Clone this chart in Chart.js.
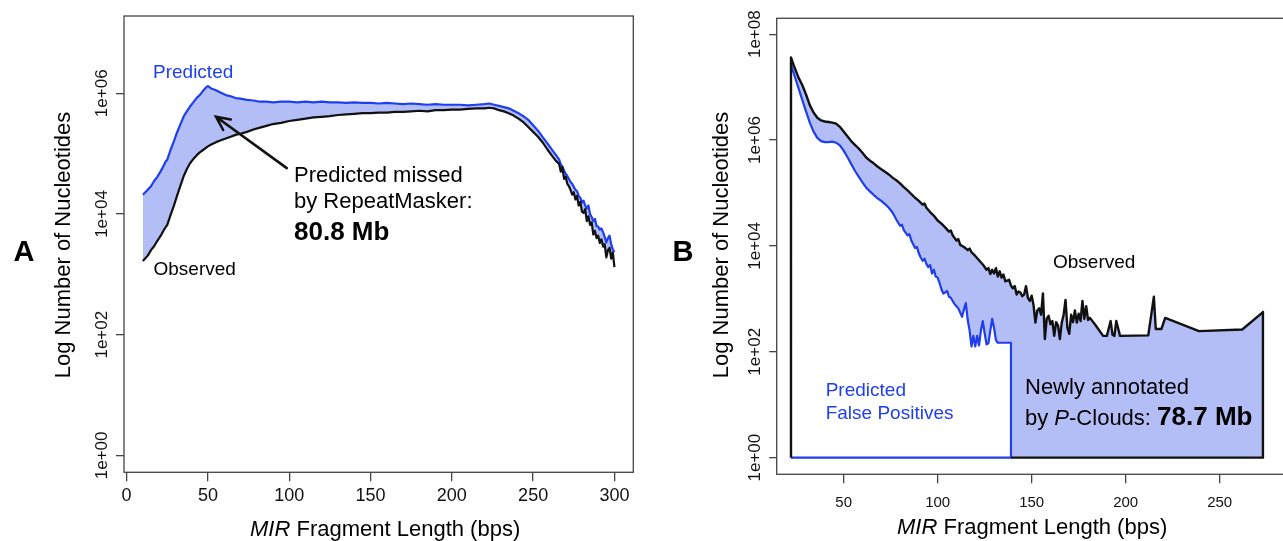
<!DOCTYPE html>
<html>
<head>
<meta charset="utf-8">
<script src="https://cdn.jsdelivr.net/npm/chart.js"></script>
<style>
html, body { margin: 0; padding: 0; overflow: hidden; background: #fff; }
#page { position: relative; width: 1283px; height: 541px; overflow: hidden; font-family: "Liberation Sans", Arial, sans-serif; color: #000; }
canvas { position: absolute; top: 0; }
.t { position: absolute; white-space: nowrap; line-height: 1; }
.rot { transform: translate(-50%, -50%) rotate(-90deg); }
.blue { color: #1e3ef0; }
</style>
</head>
<body>
<div id="page">
  <canvas id="chartA" width="640" height="541" style="left:0"></canvas>
  <canvas id="chartB" width="660" height="541" style="left:640px"></canvas>

  <div class="t" style="left:13.5px; top:236.5px; font-size:29px; font-weight:bold">A</div>
  <div class="t rot" style="left:63.3px; top:245px; font-size:22px">Log Number of Nucleotides</div>
  <div class="t" style="left:250px; top:518.4px; font-size:22px"><i>MIR</i> Fragment Length (bps)</div>
  <div class="t blue" style="left:153px; top:62.2px; font-size:19px">Predicted</div>
  <div class="t" style="left:153.5px; top:258.9px; font-size:19px">Observed</div>
  <div class="t" style="left:294px; top:164.4px; font-size:22px">Predicted missed</div>
  <div class="t" style="left:294px; top:190px; font-size:22px">by RepeatMasker:</div>
  <div class="t" style="left:294px; top:217.7px; font-size:26px; font-weight:bold">80.8 Mb</div>

  <div class="t" style="left:672.5px; top:236.5px; font-size:29px; font-weight:bold">B</div>
  <div class="t rot" style="left:721.2px; top:245px; font-size:22px">Log Number of Nucleotides</div>
  <div class="t" style="left:897px; top:516.4px; font-size:22px"><i>MIR</i> Fragment Length (bps)</div>
  <div class="t" style="left:1053px; top:252.2px; font-size:19px">Observed</div>
  <div class="t blue" style="left:825.7px; top:379.6px; font-size:19px">Predicted</div>
  <div class="t blue" style="left:825.7px; top:403.2px; font-size:19px">False Positives</div>
  <div class="t" style="left:1025px; top:376.4px; font-size:22px">Newly annotated</div>
  <div class="t" style="left:1025px; top:403px; font-size:22px">by <i>P</i>-Clouds: <b style="font-size:26px">78.7 Mb</b></div>
</div>

<script>
// panel A: fragment length (bp) and log10 of nucleotide counts
let lengthsA = [10, 13, 15, 17, 19, 21, 23, 24, 25, 27, 29, 31, 33, 35, 37, 39, 41, 43, 45, 47, 49, 50,
    52, 55, 58, 61, 64, 67, 70, 74, 78, 82, 86, 90, 95,
    100, 105, 110, 115, 120, 125, 130, 135, 140, 145, 150, 155, 160, 165, 170, 175, 180, 185, 190, 195, 200, 205, 210, 215, 220,
    223, 226, 229, 232, 235, 238, 241, 244, 247, 250, 253, 256, 259, 262, 264, 266,
    267, 268, 269, 270, 271, 272, 273, 274, 275, 276, 277, 278, 279, 280, 281, 282, 283, 284, 285, 286,
    287, 288, 289, 290, 291, 292, 293, 294, 295, 296, 297, 298, 299, 300];
let predictedLogA = [4.32, 4.40, 4.46, 4.55, 4.62, 4.71, 4.81, 4.87, 4.90, 5.06, 5.20, 5.35, 5.48, 5.61, 5.70, 5.78, 5.85, 5.92, 5.97, 6.04, 6.10, 6.12,
    6.08, 6.05, 6.01, 5.97, 5.95, 5.92, 5.91, 5.89, 5.88, 5.86, 5.86, 5.85, 5.86,
    5.86, 5.85, 5.86, 5.85, 5.86, 5.85, 5.85, 5.84, 5.85, 5.84, 5.84, 5.83, 5.84, 5.83, 5.82, 5.83, 5.82, 5.81, 5.82, 5.81, 5.81, 5.81, 5.80, 5.81, 5.82,
    5.83, 5.81, 5.79, 5.77, 5.75, 5.71, 5.67, 5.62, 5.56, 5.47, 5.38, 5.27, 5.16, 5.05, 4.98, 4.90,
    4.82, 4.78, 4.72, 4.67, 4.63, 4.58, 4.53, 4.50, 4.45, 4.40, 4.38, 4.30, 4.27, 4.19, 4.22, 4.14, 4.09, 4.14, 4.00, 3.95,
    3.88, 3.92, 3.80, 3.79, 3.74, 3.76, 3.70, 3.62, 3.53, 3.60, 3.64, 3.50, 3.41, 3.37];
let observedLogA = [3.22, 3.31, 3.40, 3.47, 3.56, 3.64, 3.74, 3.78, 3.82, 3.98, 4.13, 4.30, 4.46, 4.62, 4.74, 4.84, 4.91, 4.97, 5.02, 5.06, 5.10, 5.12,
    5.15, 5.19, 5.22, 5.25, 5.28, 5.31, 5.33, 5.36, 5.40, 5.43, 5.46, 5.49, 5.51,
    5.54, 5.56, 5.58, 5.60, 5.61, 5.62, 5.64, 5.65, 5.66, 5.67, 5.67, 5.68, 5.68, 5.69, 5.69, 5.70, 5.71, 5.70, 5.72, 5.72, 5.73, 5.73, 5.74, 5.75, 5.75,
    5.76, 5.75, 5.72, 5.70, 5.67, 5.63, 5.58, 5.52, 5.44, 5.36, 5.28, 5.18, 5.06, 4.95, 4.88, 4.83,
    4.70, 4.78, 4.58, 4.62, 4.50, 4.46, 4.40, 4.32, 4.36, 4.24, 4.30, 4.14, 4.20, 4.04, 4.02, 4.08, 3.88, 3.96, 3.82, 3.86,
    3.66, 3.72, 3.60, 3.64, 3.52, 3.58, 3.46, 3.50, 3.28, 3.40, 3.44, 3.26, 3.36, 3.12];
let xTicksA = [0, 50, 100, 150, 200, 250, 300];
let yTicksA = [1, 1e2, 1e4, 1e6];
// arrow of the annotation, [bp, log10 count]
let arrowTailA = [98.5, 4.76];
let arrowHeadA = [55, 5.61];

// panel B
let lengthsObsB = [22, 24, 26, 28, 30, 32, 34, 36, 38, 40, 42, 44, 46, 48, 50, 52, 54, 56, 58, 60, 62, 64, 66, 68, 70, 72, 74, 76, 78, 80, 82, 84, 86, 88, 90, 92,
    93, 94, 96, 98, 100, 102, 104, 106, 107, 108, 110, 111, 112, 114, 116, 117, 118, 120, 122, 124, 126,
    127, 128, 129, 130, 131, 132, 133, 134, 135, 136, 138,
    139, 140, 141, 142, 143, 144, 145, 146, 147, 148, 149, 150, 151, 152, 153, 154, 155, 156, 157, 158, 159, 160,
    161, 162, 163, 164, 165, 166, 167, 168, 169, 170, 171, 172, 173, 174, 175, 176, 177, 178, 179, 180, 181,
    184, 188, 190, 192, 193, 194, 195, 197, 212, 215, 216, 219, 221, 239, 262, 273];
let observedLogB = [7.56, 7.36, 7.18, 7.04, 6.86, 6.66, 6.52, 6.42, 6.37, 6.35, 6.34, 6.33, 6.31, 6.25, 6.16, 6.07, 5.98, 5.91, 5.84, 5.76,
    5.67, 5.61, 5.56, 5.50, 5.45, 5.40, 5.35, 5.29, 5.24, 5.18, 5.11, 5.05, 4.98, 4.91, 4.85, 4.78,
    4.80, 4.72, 4.64, 4.57, 4.48, 4.42, 4.35, 4.27, 4.29, 4.20, 4.10, 4.13, 4.02, 3.98, 3.92, 3.95, 3.88, 3.81, 3.73, 3.65, 3.55,
    3.58, 3.47, 3.55, 3.48, 3.58, 3.42, 3.52, 3.40, 3.46, 3.33, 3.36,
    3.25, 3.20, 3.24, 3.08, 3.14, 3.12, 3.05, 3.08, 3.24, 3.02, 2.96, 3.06, 2.88, 2.55, 2.78, 2.82, 2.70, 3.10, 2.24, 2.62, 2.68, 2.52,
    2.58, 2.30, 2.56, 2.50, 2.24, 2.55, 2.70, 2.98, 2.45, 2.34, 2.70, 2.56, 2.78, 2.55, 2.72, 2.58, 2.96, 2.62, 2.86, 2.60, 2.64,
    2.50, 2.30, 2.30, 2.58, 2.32, 2.30, 2.58, 2.30, 2.31, 3.04, 2.43, 2.43, 2.64, 2.39, 2.42, 2.75];
let lengthsPredB = [22, 24, 26, 28, 30, 32, 34, 36, 38, 40, 42, 44, 46, 48, 50, 52, 54, 56, 58, 60, 62, 64, 66, 68, 70, 72, 74, 76, 78, 80,
    81, 82, 84, 85, 86, 88, 89, 90, 91, 92, 93, 94, 95, 96, 97, 98, 99, 100, 101, 102, 103, 104, 105, 106, 107,
    108, 109, 110, 111, 112, 113, 114, 115, 116, 117, 118, 119, 120, 121, 122, 123, 124, 125, 126, 127, 128, 129, 130, 131, 132, 139];
let predictedLogB = [7.42, 7.20, 6.98, 6.76, 6.54, 6.33, 6.16, 6.04, 5.98, 5.96, 5.96, 5.97, 5.95, 5.90, 5.80, 5.68, 5.55, 5.42, 5.31, 5.20,
    5.10, 5.03, 4.96, 4.90, 4.85, 4.79, 4.72, 4.63, 4.50, 4.38,
    4.40, 4.30, 4.20, 4.22, 4.10, 3.96, 3.98, 3.86, 3.78, 3.72, 3.76, 3.66, 3.60, 3.64, 3.48, 3.55, 3.42, 3.40, 3.30, 3.18, 3.10, 3.12, 3.15, 3.04, 3.02,
    2.96, 2.90, 2.86, 2.82, 2.74, 2.66, 2.80, 2.92, 2.60, 2.40, 2.10, 2.30, 2.10, 2.30, 2.12, 2.40, 2.58, 2.35, 2.14, 2.16, 2.40, 2.62, 2.45, 2.22, 2.17, 2.17];
let xTicksB = [50, 100, 150, 200, 250];
let yTicksB = [1, 1e2, 1e4, 1e6, 1e8];

let black = "#111111";
let blue = "#1e3ef0";
let shade = "rgb(180, 190, 246)";
let tickGrey = "#444444";
let fontFamily = "'Liberation Sans', Arial, sans-serif";

function yLabel(v) {
    return "1e+" + String(Math.round(Math.log10(v))).padStart(2, "0");
}

function toPoints(xs, logs) {
    return xs.map((x, i) => ({x: x, y: 10 ** logs[i]}));
}

let boxPlugin = {
    id: "box",
    afterDraw(chart) {
        let a = chart.chartArea;
        let ctx = chart.ctx;
        ctx.save();
        ctx.strokeStyle = tickGrey;
        ctx.lineWidth = 1.3;
        ctx.strokeRect(a.left, a.top, a.right - a.left, a.bottom - a.top);
        ctx.restore();
    }
};

let arrowPlugin = {
    id: "arrow",
    afterDatasetsDraw(chart) {
        let xs = chart.scales.x, ys = chart.scales.y;
        let x0 = xs.getPixelForValue(arrowTailA[0]), y0 = ys.getPixelForValue(10 ** arrowTailA[1]);
        let x1 = xs.getPixelForValue(arrowHeadA[0]), y1 = ys.getPixelForValue(10 ** arrowHeadA[1]);
        let ang = Math.atan2(y1 - y0, x1 - x0);
        let ctx = chart.ctx;
        ctx.save();
        ctx.strokeStyle = black;
        ctx.lineWidth = 2.6;
        ctx.lineCap = "round";
        ctx.beginPath();
        ctx.moveTo(x0, y0);
        ctx.lineTo(x1, y1);
        ctx.moveTo(x1 - 15 * Math.cos(ang - 0.45), y1 - 15 * Math.sin(ang - 0.45));
        ctx.lineTo(x1, y1);
        ctx.lineTo(x1 - 15 * Math.cos(ang + 0.45), y1 - 15 * Math.sin(ang + 0.45));
        ctx.stroke();
        ctx.restore();
    }
};

function xScale(min, max, ticks, fontSize, pad, height) {
    return {
        type: "linear",
        bounds: "data",
        min: min,
        max: max,
        afterBuildTicks: s => { s.ticks = ticks.map(v => ({value: v})); },
        afterFit: s => { s.height = height; },
        ticks: {color: "#111", padding: pad, font: {family: fontFamily, size: fontSize}, maxRotation: 0},
        grid: {drawOnChartArea: false, tickLength: 9, color: tickGrey, lineWidth: 1.3},
        border: {display: false}
    };
}

function yScale(minExp, maxExp, ticks, tickLen, pad, width) {
    return {
        type: "logarithmic",
        bounds: "data",
        min: 10 ** minExp,
        max: 10 ** maxExp,
        afterBuildTicks: s => { s.ticks = ticks.map(v => ({value: v})); },
        afterFit: s => { s.width = width; },
        ticks: {
            color: "#111", padding: pad, crossAlign: "center", minRotation: 90, maxRotation: 90,
            font: {family: fontFamily, size: 17},
            callback: v => yLabel(v)
        },
        grid: {drawOnChartArea: false, tickLength: tickLen, color: tickGrey, lineWidth: 1.3},
        border: {display: false}
    };
}

let common = {
    responsive: false,
    animation: false,
    events: [],
    elements: {point: {radius: 0}, line: {tension: 0, borderJoinStyle: "round"}},
    plugins: {legend: {display: false}, tooltip: {enabled: false}}
};

new Chart(document.getElementById("chartA"), {
    type: "line",
    data: {
        datasets: [{
            label: "Observed",
            data: toPoints(lengthsA, observedLogA),
            borderColor: black,
            borderWidth: 2.2,
            fill: false
        }, {
            label: "Predicted",
            data: toPoints(lengthsA, predictedLogA),
            borderColor: blue,
            borderWidth: 2.2,
            backgroundColor: shade,
            fill: "-1"
        }]
    },
    options: Object.assign({}, common, {
        layout: {padding: {left: 0, right: 6.7, top: 16, bottom: 0}},
        scales: {
            x: xScale(-1.6, 311.6, xTicksA, 18, 4, 68.7),
            y: yScale(-0.28, 7.28, yTicksA, 8, -10.5, 124)
        }
    }),
    plugins: [boxPlugin, arrowPlugin]
});

// outlines for panel B: vertical at the first length, curve, drop to 1 at the end, then along the bottom
let obsCurveB = toPoints(lengthsObsB, observedLogB);
let predCurveB = toPoints(lengthsPredB, predictedLogB);
let obsStart = lengthsObsB[0], obsEnd = lengthsObsB[lengthsObsB.length - 1];
let predStart = lengthsPredB[0], predEnd = lengthsPredB[lengthsPredB.length - 1];
let obsShapeB = [{x: obsStart, y: 1}].concat(obsCurveB, [{x: obsEnd, y: 1}, {x: predEnd, y: 1}]);
let predShapeB = predCurveB.concat([{x: predEnd, y: 1}, {x: predStart, y: 1}]);

new Chart(document.getElementById("chartB"), {
    type: "line",
    data: {
        datasets: [{
            label: "Observed",
            data: obsShapeB,
            borderColor: black,
            borderWidth: 2.4,
            fill: false,
            order: 0
        }, {
            label: "Predicted",
            data: predShapeB,
            borderColor: blue,
            borderWidth: 2.2,
            fill: false,
            order: 1
        }, {
            label: "Predicted area",
            data: predShapeB,
            borderColor: "transparent",
            borderWidth: 0,
            backgroundColor: "#ffffff",
            fill: "shape",
            order: 2
        }, {
            label: "Observed area",
            data: obsShapeB,
            borderColor: "transparent",
            borderWidth: 0,
            backgroundColor: shade,
            fill: "shape",
            order: 3
        }]
    },
    options: Object.assign({}, common, {
        layout: {padding: {left: 0, right: 16, top: 18.3, bottom: 0}},
        scales: {
            x: xScale(14.4, 284.2, xTicksB, 15, 11, 66.7),
            y: yScale(-0.315, 8.30, yTicksB, 7.5, -9.5, 136.7)
        }
    }),
    plugins: [boxPlugin]
});
</script>
</body>
</html>
